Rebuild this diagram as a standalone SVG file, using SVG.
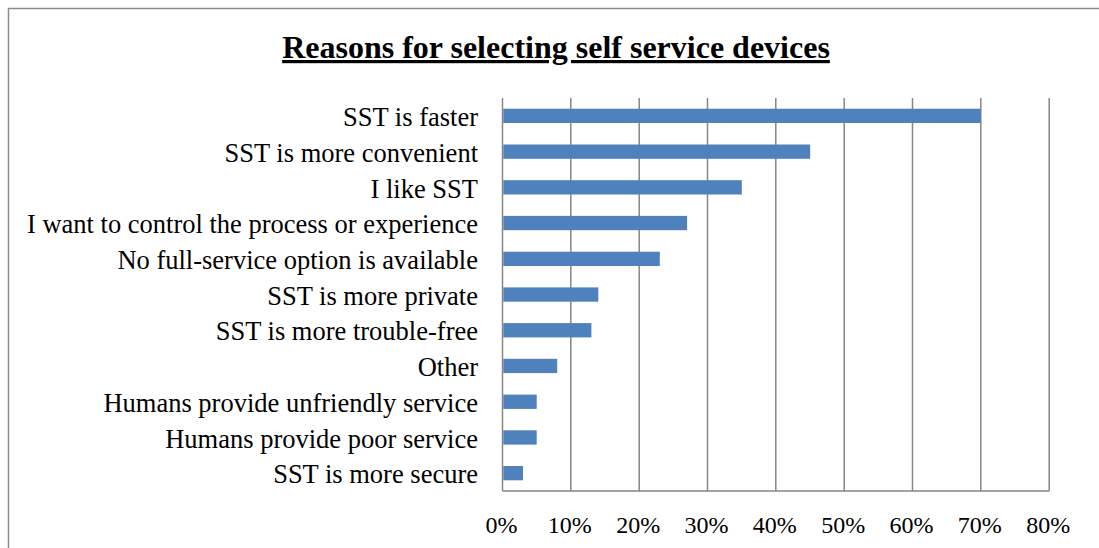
<svg xmlns="http://www.w3.org/2000/svg" width="1099" height="548" viewBox="0 0 1099 548">
<style>
.lbl{font-family:'Liberation Serif','Times New Roman',serif;font-size:26.5px;fill:#000;text-anchor:end}
.tick{font-family:'Liberation Serif','Times New Roman',serif;font-size:24px;fill:#000;text-anchor:middle}
.title{font-family:'Liberation Serif','Times New Roman',serif;font-size:32px;font-weight:bold;fill:#000;text-anchor:middle;text-decoration:underline}
.grid{stroke:#868686;stroke-width:1.5}
.bar{fill:#4f81bd}
.frame{stroke:#8c8c8c;stroke-width:1.5;fill:none}
</style>
<rect width="1099" height="548" fill="#fff"/>
<path class="frame" d="M8.5 548 V8.5 H1099"/>
<g id="title"><text class="title" x="556" y="58">Reasons for selecting self service devices</text></g>
<g id="grid">
<line class="grid" x1="502.5" y1="98" x2="502.5" y2="491"/>
<line class="grid" x1="570.8" y1="98" x2="570.8" y2="491"/>
<line class="grid" x1="639.2" y1="98" x2="639.2" y2="491"/>
<line class="grid" x1="707.5" y1="98" x2="707.5" y2="491"/>
<line class="grid" x1="775.8" y1="98" x2="775.8" y2="491"/>
<line class="grid" x1="844.2" y1="98" x2="844.2" y2="491"/>
<line class="grid" x1="912.5" y1="98" x2="912.5" y2="491"/>
<line class="grid" x1="980.8" y1="98" x2="980.8" y2="491"/>
<line class="grid" x1="1049.2" y1="98" x2="1049.2" y2="491"/>
<line class="grid" x1="502.5" y1="491" x2="1049.2" y2="491"/>
</g>
<g id="bars">
<rect class="bar" x="503.3" y="108.7" width="477.5" height="14.3"/>
<rect class="bar" x="503.3" y="144.5" width="306.9" height="14.3"/>
<rect class="bar" x="503.3" y="180.2" width="238.5" height="14.3"/>
<rect class="bar" x="503.3" y="215.9" width="183.8" height="14.3"/>
<rect class="bar" x="503.3" y="251.7" width="156.5" height="14.3"/>
<rect class="bar" x="503.3" y="287.4" width="95.0" height="14.3"/>
<rect class="bar" x="503.3" y="323.1" width="88.1" height="14.3"/>
<rect class="bar" x="503.3" y="358.8" width="53.9" height="14.3"/>
<rect class="bar" x="503.3" y="394.6" width="33.4" height="14.3"/>
<rect class="bar" x="503.3" y="430.3" width="33.4" height="14.3"/>
<rect class="bar" x="503.3" y="466.0" width="19.7" height="14.3"/>
</g>
<g id="labels">
<text class="lbl" x="478" y="126">SST is faster</text>
<text class="lbl" x="478" y="161.7">SST is more convenient</text>
<text class="lbl" x="478" y="197.5">I like SST</text>
<text class="lbl" x="478" y="233.2">I want to control the process or experience</text>
<text class="lbl" x="478" y="268.9">No full-service option is available</text>
<text class="lbl" x="478" y="304.7">SST is more private</text>
<text class="lbl" x="478" y="340.4">SST is more trouble-free</text>
<text class="lbl" x="478" y="376.1">Other</text>
<text class="lbl" x="478" y="411.9">Humans provide unfriendly service</text>
<text class="lbl" x="478" y="447.6">Humans provide poor service</text>
<text class="lbl" x="478" y="483.3">SST is more secure</text>
</g>
<g id="ticks">
<text class="tick" x="501.5" y="533">0%</text>
<text class="tick" x="569.8" y="533">10%</text>
<text class="tick" x="638.2" y="533">20%</text>
<text class="tick" x="706.5" y="533">30%</text>
<text class="tick" x="774.8" y="533">40%</text>
<text class="tick" x="843.2" y="533">50%</text>
<text class="tick" x="911.5" y="533">60%</text>
<text class="tick" x="979.8" y="533">70%</text>
<text class="tick" x="1048.2" y="533">80%</text>
</g>
</svg>
